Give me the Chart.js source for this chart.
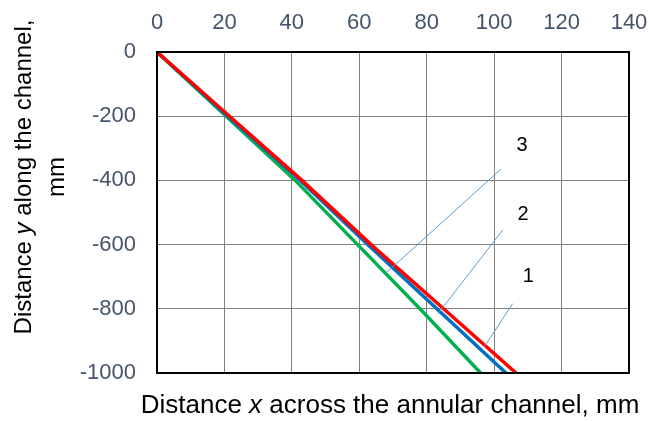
<!DOCTYPE html>
<html>
<head>
<meta charset="utf-8">
<script src="https://cdn.jsdelivr.net/npm/chart.js@4/dist/chart.umd.min.js"></script>
<style>
  html, body { margin: 0; padding: 0; background: #fff; }
  #wrap { width: 649px; height: 421px; position: relative; }
</style>
</head>
<body>
<div id="wrap"><canvas id="myChart"></canvas></div>
<script>
// data *********************************
const depth = [0, -200, -400, -600, -800, -1000];   // y, mm
const xCurve1 = [0, 21.5, 43, 63.5, 85, 106.5];      // red
const xCurve2 = [0, 21, 42.5, 62.5, 83, 103.5];      // blue
const xCurve3 = [0, 20.5, 41, 59.5, 78, 96];         // green

// leader lines for the curve numbers: [x0, y0, x1, y1]
const leader1 = [105.5, -784, 97.1, -918];
const leader2 = [102.6, -554, 83.3, -816];
const leader3 = [102.0, -365, 67.9, -689];
const curveLabels = ["1", "2", "3"];
const labelX = [110.1, 108.6, 108.3];
const labelY = [-698, -505, -290];

const xTicksMax = 140;
const yTicksMin = -1000;
// **************************************

function pts(xs, ys){
  var out = [];
  for(var i = 0; i < xs.length; i++){
    out.push({x: xs[i], y: ys[i]});
  }
  return out;
}
function seg(a){
  return [{x: a[0], y: a[1]}, {x: a[2], y: a[3]}];
}

const tickColor = "#44546a";
const fam = "'Liberation Sans', Arial, sans-serif";
const axisFont = {family: fam, size: 22};

// titles with italic variable + frame + curve numbers
const extras = {
  id: "extras",
  afterDatasetsDraw(chart){
    const ctx = chart.ctx;
    const a = chart.chartArea;
    const sx = chart.scales.x, sy = chart.scales.y;
    ctx.save();
    // frame
    ctx.strokeStyle = "#000";
    ctx.lineWidth = 2;
    ctx.strokeRect(a.left, a.top, a.right - a.left, a.bottom - a.top);
    // curve numbers
    ctx.fillStyle = "#000";
    ctx.font = "20px " + fam;
    ctx.textAlign = "center";
    ctx.textBaseline = "middle";
    for(var i = 0; i < curveLabels.length; i++){
      ctx.fillText(curveLabels[i], sx.getPixelForValue(labelX[i]), sy.getPixelForValue(labelY[i]));
    }
    ctx.restore();
  },
  afterDraw(chart){
    const ctx = chart.ctx;
    ctx.save();
    ctx.fillStyle = "#000";
    ctx.textBaseline = "alphabetic";
    // x title
    drawMixed(ctx, [["Distance ", false], ["x", true], [" across the annular channel, mm", false]], 390, 413, 26);
    // y title, rotated
    ctx.translate(31, 177);
    ctx.rotate(-Math.PI / 2);
    drawMixed(ctx, [["Distance ", false], ["y", true], [" along the channel,", false]], 0, 0, 24);
    drawMixed(ctx, [["mm", false]], 0, 33, 24);
    ctx.restore();
  }
};

function drawMixed(ctx, parts, cx, y, size){
  var w = 0;
  for(var i = 0; i < parts.length; i++){
    ctx.font = (parts[i][1] ? "italic " : "") + size + "px " + fam;
    w += ctx.measureText(parts[i][0]).width;
  }
  var x = cx - w / 2;
  ctx.textAlign = "left";
  for(var i = 0; i < parts.length; i++){
    ctx.font = (parts[i][1] ? "italic " : "") + size + "px " + fam;
    ctx.fillText(parts[i][0], x, y);
    x += ctx.measureText(parts[i][0]).width;
  }
}

const leaderStyle = {borderColor: "#5b9bd5", borderWidth: 1, pointRadius: 0, showLine: true, fill: false};

new Chart("myChart", {
  type: "scatter",
  data: {
    datasets: [
      Object.assign({data: seg(leader1)}, leaderStyle),
      Object.assign({data: seg(leader2)}, leaderStyle),
      Object.assign({data: seg(leader3)}, leaderStyle),
      {data: pts(xCurve1, depth), borderColor: "#ff0000", borderWidth: 3.5, pointRadius: 0, showLine: true},
      {data: pts(xCurve2, depth), borderColor: "#0070c0", borderWidth: 3.5, pointRadius: 0, showLine: true},
      {data: pts(xCurve3, depth), borderColor: "#00b050", borderWidth: 3.5, pointRadius: 0, showLine: true}
    ]
  },
  options: {
    responsive: true,
    maintainAspectRatio: false,
    animation: false,
    layout: {padding: {left: 0, top: 0, right: 20, bottom: 48}},
    plugins: {legend: {display: false}, tooltip: {enabled: false}},
    scales: {
      x: {
        type: "linear",
        position: "top",
        min: 0,
        max: xTicksMax,
        ticks: {stepSize: 20, color: tickColor, font: axisFont, padding: 16, maxRotation: 0},
        grid: {color: "#808080", lineWidth: 1, drawTicks: false},
        border: {display: false},
        afterFit(s){ s.height = 52; s.paddingLeft = 0; s.paddingRight = 0; }
      },
      y: {
        type: "linear",
        min: yTicksMin,
        max: 0,
        ticks: {stepSize: 200, color: tickColor, font: axisFont, padding: 21,
                callback: function(v){ return String(v); }},
        grid: {color: "#808080", lineWidth: 1, drawTicks: false},
        border: {display: false},
        afterFit(s){ s.width = 157; s.paddingTop = 0; s.paddingBottom = 0; }
      }
    }
  },
  plugins: [extras]
});
</script>
</body>
</html>
